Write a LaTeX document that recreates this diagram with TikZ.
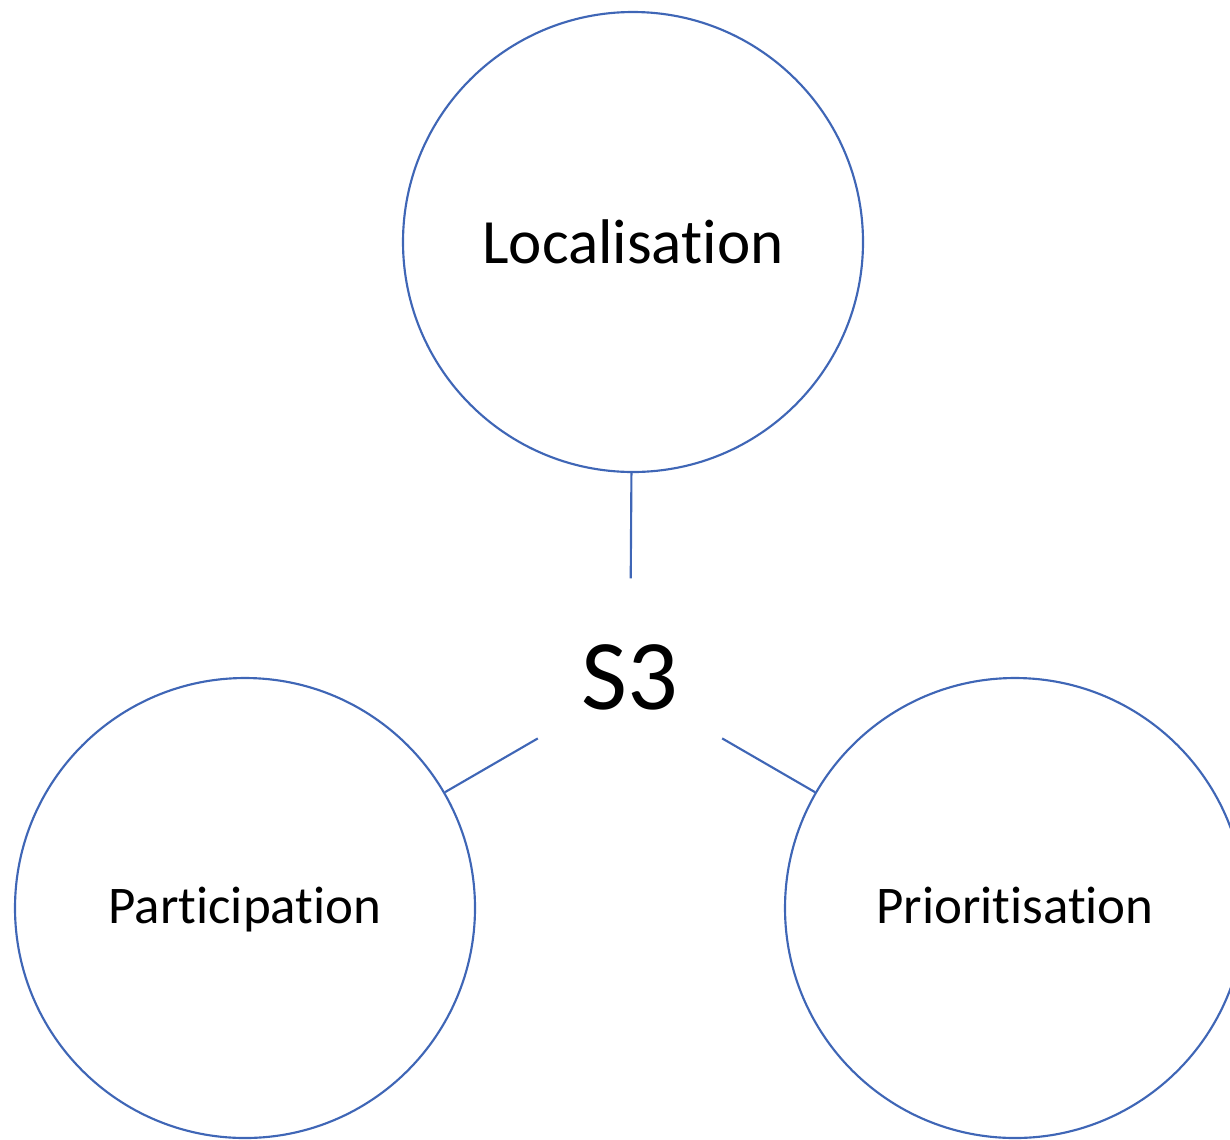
\documentclass[tikz,border=0pt]{standalone}
\usepackage{fontspec}
\setmainfont[Ligatures=NoCommon]{Carlito}
\usepackage{tikz}
\definecolor{lineblue}{HTML}{3F66B6}

\begin{document}
\begin{tikzpicture}[x=0.75pt,y=-0.75pt,thick,
  main node/.style={circle,draw=lineblue,line width=1.6pt,minimum size=345pt,inner sep=0pt,
    font=\fontsize{39.7pt}{48pt}\selectfont,text height=30pt,text depth=7.5pt},
  hub node/.style={circle,minimum size=159pt,inner sep=0pt,
    font=\fontsize{75pt}{90pt}\selectfont,text height=48pt,text depth=12pt}]

  \useasboundingbox (0,0) rectangle (1230,1139);
  \clip (0,0) rectangle (1230,1139);

  \node[hub node] (s3) at (630,685) {S3};
  \node[main node,font=\fontsize{47.3pt}{57pt}\selectfont,text height=36pt,text depth=4.5pt]
    (1) at (633,242) {Localisation};
  \node[main node] (2) at (245,908) {Participation};
  \node[main node] (3) at (1015,908) {Prioritisation};

  \path[draw=lineblue,line width=1.6pt]
    (1) edge (s3)
    (2) edge (s3)
    (3) edge (s3);

\end{tikzpicture}
\end{document}
